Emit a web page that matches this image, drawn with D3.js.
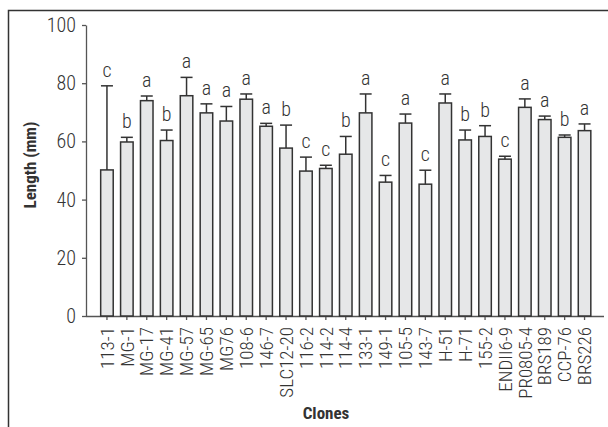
<!DOCTYPE html>
<html>
<head>
<meta charset="utf-8">
<script src="https://cdn.jsdelivr.net/npm/d3@7"></script>
<style>
  body { margin: 0; background: #fff; }
  svg text { font-family: "Liberation Sans Narrow", "Roboto Condensed", "Liberation Sans", sans-serif; fill: #333; font-weight: 300; }
</style>
</head>
<body>
<div id="chart"></div>
<script>
// clones and mean length (mm), upper error, significance letter
const clones = ["113-1", "MG-1", "MG-17", "MG-41", "MG-57", "MG-65", "MG76", "108-6", "146-7", "SLC12-20",
  "116-2", "114-2", "114-4", "133-1", "149-1", "105-5", "143-7", "H-51", "H-71", "155-2",
  "ENDII6-9", "PR0805-4", "BRS189", "CCP-76", "BRS226"];
const lengths = [50.2, 59.8, 74.0, 60.3, 75.7, 69.8, 67.0, 74.5, 65.2, 57.7,
  49.8, 50.7, 55.6, 69.8, 46.0, 66.3, 45.3, 73.2, 60.5, 61.7,
  53.9, 71.7, 67.5, 61.4, 63.7];
const errors = [28.9, 1.6, 1.6, 3.6, 6.3, 3.1, 5.0, 1.8, 1.0, 7.9,
  4.8, 1.1, 6.1, 6.5, 2.3, 3.1, 4.8, 3.1, 3.4, 3.7,
  1.0, 2.9, 1.2, 0.8, 2.3];
const letters = ["c", "b", "a", "b", "a", "a", "a", "a", "a", "b",
  "c", "c", "b", "a", "c", "a", "c", "a", "b", "b",
  "c", "a", "a", "b", "a"];
const yTicks = [0, 20, 40, 60, 80, 100];

const width = 608, height = 427;
const svg = d3.select("#chart").append("svg")
  .attr("width", width).attr("height", height);

// outer frame (top and left only)
svg.append("path")
  .attr("d", "M8.5,427V10.5H608")
  .attr("fill", "none").attr("stroke", "#333").attr("stroke-width", 1.5);

const x = d3.scaleBand().domain(clones).range([97, 594.5]).paddingInner(0.37).paddingOuter(0.185);
const y = d3.scaleLinear().domain([0, 100]).range([316, 25]);

// y axis
const yAxis = svg.append("g").attr("transform", "translate(86,0)")
  .call(d3.axisLeft(y).tickValues(yTicks).tickSize(4).tickSizeOuter(0).tickPadding(6));
yAxis.selectAll("text").style("font-size", "20px");

// x axis
const xAxis = svg.append("g").attr("transform", "translate(0,316)")
  .call(d3.axisBottom(x).tickSize(4).tickSizeOuter(0));
xAxis.select(".domain").attr("d", "M86,0.5H604");
xAxis.selectAll("text")
  .attr("transform", "rotate(-90)")
  .attr("x", -11).attr("y", 0).attr("dy", "0.35em")
  .style("text-anchor", "end").style("font-size", "19px");

svg.selectAll(".domain, .tick line").attr("stroke", "#555").attr("stroke-width", 1.3);

// bars
svg.selectAll("rect.bar").data(clones).join("rect")
  .attr("class", "bar")
  .attr("x", d => x(d))
  .attr("y", (d, i) => y(lengths[i]))
  .attr("width", x.bandwidth())
  .attr("height", (d, i) => y(0) - y(lengths[i]))
  .attr("fill", "#e6e7e8").attr("stroke", "#333").attr("stroke-width", 1.5);

// error bars
const eb = svg.selectAll("g.err").data(clones).join("g").attr("class", "err")
  .attr("transform", d => `translate(${x(d) + x.bandwidth() / 2},0)`);
eb.append("line")
  .attr("y1", (d, i) => y(lengths[i])).attr("y2", (d, i) => y(lengths[i] + errors[i]))
  .attr("stroke", "#333").attr("stroke-width", 1.5);
eb.append("line")
  .attr("x1", -6).attr("x2", 6)
  .attr("y1", (d, i) => y(lengths[i] + errors[i])).attr("y2", (d, i) => y(lengths[i] + errors[i]))
  .attr("stroke", "#333").attr("stroke-width", 1.5);
eb.append("text")
  .attr("y", (d, i) => y(lengths[i] + errors[i]) - 9)
  .attr("text-anchor", "middle").style("font-size", "20px")
  .text((d, i) => letters[i]);

// axis titles
svg.append("text")
  .attr("transform", "translate(36,165) rotate(-90)")
  .attr("text-anchor", "middle").style("font-size", "17px").style("font-weight", "bold")
  .text("Length (mm)");
svg.append("text")
  .attr("x", 326).attr("y", 419)
  .attr("text-anchor", "middle").style("font-size", "17px").style("font-weight", "bold")
  .text("Clones");
</script>
</body>
</html>
